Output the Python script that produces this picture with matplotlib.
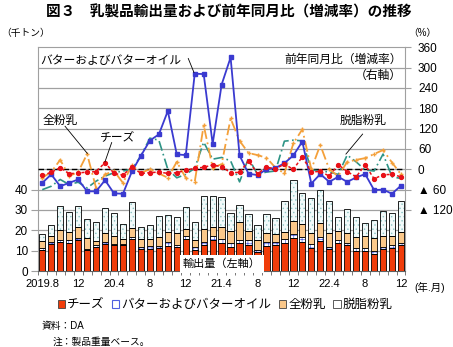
import matplotlib
matplotlib.use("Agg")
import matplotlib.pyplot as plt
from matplotlib.patches import Patch
import numpy as np

plt.rcParams['font.family'] = ['Liberation Sans', 'Noto Sans CJK JP', 'DejaVu Sans']
plt.rcParams['hatch.linewidth'] = 0.5

W, H = 453, 347

# 2019.8 ～ 2022.12（月次）
tick_pos = [1, 5, 9, 13, 17, 21, 25, 29, 33, 37, 41]
tick_labels = ["2019.8", "12", "20.4", "8", "12", "21.4", "8", "12", "22.4", "8", "12"]

# 輸出量（千トン）
cheese = [10.1, 13.3, 14.3, 13.8, 15.4, 10.4, 11.7, 13.3, 13.0, 12.9, 15.9, 10.9, 10.9, 11.1,
          12.3, 11.6, 15.6, 10.2, 12.8, 15.2, 13.6, 11.6, 13.7, 13.0, 9.3, 12.2, 12.7, 13.6,
          16.0, 14.2, 11.4, 14.7, 10.6, 14.0, 12.6, 9.9, 9.9, 8.6, 10.6, 11.4, 13.0]
butter = [1.1, 1.1, 1.1, 1.6, 0.9, 0.5, 1.2, 1.1, 0.4, 0.4, 0.7, 1.0, 1.3, 1.4, 2.2, 1.4,
          1.5, 1.7, 1.7, 2.1, 2.0, 2.0, 1.7, 2.2, 0.9, 2.0, 1.7, 1.9, 2.2, 2.6, 1.8, 2.1,
          1.3, 1.2, 1.0, 1.5, 1.5, 1.0, 1.0, 1.3, 0.8]
whole = [3.6, 2.9, 4.8, 3.9, 5.4, 5.1, 2.1, 4.4, 3.7, 2.6, 4.7, 4.0, 3.7, 4.3, 4.6, 5.7,
         3.5, 3.3, 6.1, 4.3, 6.0, 6.0, 8.7, 4.4, 5.0, 4.6, 3.9, 3.8, 6.6, 6.5, 5.3, 6.7,
         6.6, 4.6, 5.2, 5.4, 5.9, 6.4, 5.7, 4.6, 5.2]
skim = [3.5, 5.5, 11.6, 9.6, 10.5, 9.8, 9.3, 12.1, 11.2, 7.4, 12.8, 5.9, 6.9, 10.2, 8.4,
        7.9, 11.0, 9.0, 16.4, 15.4, 14.8, 8.9, 8.4, 8.6, 7.4, 9.4, 7.8, 15.0, 19.9, 15.3,
        17.4, 16.1, 15.7, 6.9, 11.9, 9.9, 6.1, 9.2, 12.3, 11.1, 15.2]

# 前年同月比（%）
cheese_yoy = [-18, -9, 5, -13, -11, -8, -7, 20, -12, -17, 7, -12, -10, -8, -12, -10, -3, 3,
              6, 13, 8, -10, -9, 25, -13, 6, 2, 15, 0, 37, -8, -6, -20, 14, -7, -22, 13,
              -28, -16, -15, -22]
butter_yoy = [-40, -15, -50, -40, -30, -65, -65, -32, -71, -72, -6, 40, 85, 103, 172, 44,
              42, 282, 281, 75, 250, 330, 41, -13, -17, 0, 4, 18, 41, 82, -42, -14, -37,
              -22, -37, -24, -14, -61, -60, -72, -48]
whole_yoy = [-25, -8, 28, -20, -8, 45, -55, -15, -5, -40, 12, -10, 0, -12, -25, 22, -25,
             -37, 130, 5, 15, 150, 84, 48, 42, 34, 5, -12, 77, 118, 0, 72, 0, -20, 22, 28,
             33, 45, 57, 20, -15]
skim_yoy = [-60, -50, -30, -45, -38, -55, -35, -20, -10, -5, 0, 40, 92, 86, 0, -25, -15, 3,
            80, 30, 35, 25, -37, 33, -15, -8, -5, 83, 86, 84, -2, -5, -8, -15, 42, 22, -2,
            -5, 45, -22, -27]

RED = "#F03C0A"
BLUE = "#3A3AD0"
ORANGE_BAR = "#FBC88A"
ORANGE = "#F4A03A"
TEAL = "#2E9486"
GRID = "#A0A0A0"


def fx(px):
    return px / W


def fy(py):
    return 1 - py / H


fig = plt.figure(figsize=(W / 100, H / 100), dpi=100)
ax = fig.add_axes([0.0834, 0.219, 0.8117, 0.6447])
ax2 = ax.twinx()

x = np.arange(1, len(cheese) + 1)
c = np.array(cheese)
b = np.array(butter)
w = np.array(whole)
s = np.array(skim)
bw = 0.7

# 積み上げ棒
ax.bar(x, c, bw, color=RED, edgecolor="black", linewidth=0.6, zorder=3)
ax.bar(x, b, bw, bottom=c, color="white", edgecolor="#5060E0", hatch="++++",
       linewidth=0, zorder=3)
ax.bar(x, b, bw, bottom=c, fill=False, edgecolor="black", linewidth=0.6, zorder=3)
ax.bar(x, w, bw, bottom=c + b, color=ORANGE_BAR, edgecolor="black", linewidth=0.6, zorder=3)
ax.bar(x, s, bw, bottom=c + b + w, color="#F2FAFA", edgecolor="#8CC4C4", hatch="....",
       linewidth=0, zorder=3)
ax.bar(x, s, bw, bottom=c + b + w, fill=False, edgecolor="black", linewidth=0.6, zorder=3)

for v in range(10, 110, 10):
    ax.axhline(v, color=GRID, linewidth=0.9, zorder=1)

ax.set_xlim(0.5, len(x) + 0.5)
ax.set_ylim(0, 110)
ax.set_yticks([0, 10, 20, 30, 40])
ax.tick_params(axis="y", labelsize=8.5, length=5, width=0.8, color=GRID, pad=2)
ax.set_xticks(tick_pos)
ax.set_xticklabels(tick_labels, fontsize=8)
ax.set_xticks(np.arange(0.5, len(x) + 1, 1), minor=True)
ax.tick_params(axis="x", which="major", length=0, pad=6)
ax.tick_params(axis="x", which="minor", length=3, width=0.6, color="#606060")
for sp in ["left", "top", "right"]:
    ax.spines[sp].set_color(GRID)
ax.spines["bottom"].set_color("#606060")

fig.text(fx(222), fy(264), "輸出量（左軸）", fontsize=8, ha="center", va="center",
         bbox=dict(facecolor="white", edgecolor="none", pad=2.5), zorder=10)

# 前年同月比（右軸）
ax2.axhline(0, color="black", linestyle=(0, (4, 2)), linewidth=1.0, zorder=2)
ax2.plot(x, skim_yoy, color=TEAL, linestyle=(0, (6, 2, 1, 2)), linewidth=1.2, zorder=3)
ax2.plot(x, whole_yoy, color=ORANGE, linestyle=(0, (6, 2, 1, 2)), linewidth=1.3,
         marker="+", markersize=3, zorder=4)
ax2.plot(x, butter_yoy, color=BLUE, linestyle="-", linewidth=1.3, marker="s",
         markersize=3.3, zorder=5)
ax2.plot(x, cheese_yoy, color="#E81018", linestyle=(0, (2, 1.5)), linewidth=1.1,
         marker="o", markersize=2.8, zorder=6)

ax2.set_ylim(-300, 360)
yt = [-120, -60, 0, 60, 120, 180, 240, 300, 360]
ax2.set_yticks(yt)
ax2.set_yticklabels(["▲ 120" if v == -120 else "▲ 60" if v == -60 else str(v) for v in yt],
                    fontsize=8.5)
ax2.tick_params(axis="y", length=4, width=0.8, color=GRID, pad=5)
for sp in ["left", "top", "right", "bottom"]:
    ax2.spines[sp].set_visible(False)

# 引き出し線
ax2.plot([17.28, 17.91], [327, 286], color="black", linewidth=0.6, zorder=7)
ax2.plot([3.54, 6.02], [127, 47], color="black", linewidth=0.6, zorder=7)
ax2.plot([8.74, 7.99], [79, 22], color="black", linewidth=0.6, zorder=7)
ax2.plot([36.72, 34.86], [104, 45], color="black", linewidth=0.6, zorder=7)

fig.text(fx(40), fy(61), "バターおよびバターオイル", fontsize=8.5, ha="left", va="center")
fig.text(fx(402), fy(60), "前年同月比（増減率）", fontsize=8.5, ha="right", va="center")
fig.text(fx(402), fy(76), "（右軸）", fontsize=8.5, ha="right", va="center")
fig.text(fx(43), fy(121), "全粉乳", fontsize=8.5, ha="left", va="center")
fig.text(fx(100), fy(138), "チーズ", fontsize=8.5, ha="left", va="center")
fig.text(fx(340), fy(121), "脱脂粉乳", fontsize=8.5, ha="left", va="center")

# タイトル・単位・注記
fig.text(fx(229), fy(12), "図３　乳製品輸出量および前年同月比（増減率）の推移",
         fontsize=10.5, fontweight="bold", ha="center", va="center")
fig.text(fx(1), fy(33), "（千トン）", fontsize=7, ha="left", va="center")
fig.text(fx(408), fy(33), "（%）", fontsize=7, ha="left", va="center")
fig.text(fx(414), fy(287), "(年.月)", fontsize=7.5, ha="left", va="center")

handles = [
    Patch(facecolor=RED, edgecolor="#404040", linewidth=0.6, label="チーズ"),
    Patch(facecolor="white", edgecolor="#5060E0", linewidth=0.8, label="バターおよびバターオイル"),
    Patch(facecolor=ORANGE_BAR, edgecolor="#404040", linewidth=0.6, label="全粉乳"),
    Patch(facecolor="white", edgecolor="#404040", linewidth=0.6, label="脱脂粉乳"),
]
fig.legend(handles=handles, loc="center", bbox_to_anchor=(fx(225), fy(305)), ncol=4,
           frameon=False, fontsize=9, handlelength=0.6, handleheight=0.6,
           handletextpad=0.15, columnspacing=0.6, borderpad=0)

fig.text(fx(42), fy(326), "資料：DA", fontsize=7, ha="left", va="center")
fig.text(fx(53), fy(342), "注：製品重量ベース。", fontsize=7, ha="left", va="center")

fig.savefig("out.png", dpi=100)
